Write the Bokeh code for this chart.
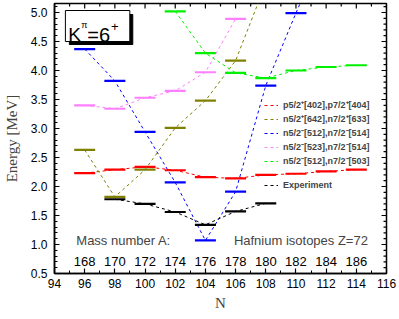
import numpy as np
from bokeh.plotting import figure
from bokeh.models import (Range1d, FixedTicker, Legend, LegendItem,
                          Label, ColumnDataSource)
from bokeh.embed import file_html
from bokeh.resources import INLINE
from bokeh.core.properties import value

nan = float("nan")

# ---------------- data ----------------
N = [96, 98, 100, 102, 104, 106, 108, 110, 112, 114]
mass_numbers = [168, 170, 172, 174, 176, 178, 180, 182, 184, 186]

p_402_404 = [2.23, 2.29, 2.34, 2.28, 2.16, 2.14, 2.20, 2.22, 2.26, 2.29]
n_642_633 = [2.63, 1.82, 2.29, 3.01, 3.48, 4.17, 5.50, nan, nan, nan]
n_512_514 = [4.37, 3.82, 2.94, 2.07, 1.07, 1.91, 3.74, 4.99, 6.20, nan]
n_523_514 = [3.40, 3.34, 3.53, 3.65, 3.97, 4.89, nan, nan, nan, nan]
n_512_503 = [nan, nan, nan, 5.02, 4.30, 3.96, 3.87, 4.00, 4.06, 4.09]
experiment = [nan, 1.78, 1.70, 1.56, 1.34, 1.57, 1.71, nan, nan, nan]

series_labels = ["p5/2\u207a[402],p7/2\u207a[404]",
                 "n5/2\u207a[642],n7/2\u207a[633]",
                 "n5/2\u207b[512],n7/2\u207b[514]",
                 "n5/2\u207b[523],n7/2\u207b[514]",
                 "n5/2\u207b[512],n7/2\u207b[503]"]
exp_label = "Experiment"

x_ticks = list(range(94, 117, 2))
x_minor = list(range(95, 116, 2))
y_ticks = [0.5, 1.0, 1.5, 2.0, 2.5, 3.0, 3.5, 4.0, 4.5, 5.0]
y_minor = [round(0.5 + 0.1 * i, 2) for i in range(0, 47)]

# ---------------- layout helpers ----------------
W, H = 397, 317
X0, X1 = 94, 116
Y0, Y1 = 0.5, 5.155
FL, FR, FT, FB = 51, 386, 3, 273   # frame edges in page pixels
XS = (FR - FL) / (X1 - X0)          # px per x unit
YS = (FB - FT) / (Y1 - Y0)          # px per y unit

def px2x(px):
    return X0 + (px - FL) / XS

def py2y(py):
    return Y1 - (py - FT) / YS

p = figure(width=W, height=H, output_backend="svg", toolbar_location=None,
           x_range=Range1d(X0, X1), y_range=Range1d(Y0, Y1),
           min_border_left=FL, min_border_right=W - FR,
           min_border_top=FT, min_border_bottom=H - FB)
p.xgrid.visible = False
p.ygrid.visible = False
p.outline_line_color = "black"
p.outline_line_width = 1.5
p.background_fill_color = "white"
p.border_fill_color = "white"

xt = FixedTicker(ticks=x_ticks, minor_ticks=x_minor)
yt = FixedTicker(ticks=y_ticks, minor_ticks=y_minor)

def style_axis(ax):
    ax.axis_line_color = "black"
    ax.axis_line_width = 1.5
    ax.major_tick_in = 5
    ax.major_tick_out = 0
    ax.minor_tick_in = 3
    ax.minor_tick_out = 0
    ax.major_tick_line_color = "black"
    ax.minor_tick_line_color = "black"
    ax.major_tick_line_width = 1.2
    ax.major_label_text_font = "Liberation Sans"
    ax.major_label_text_font_size = "12px"
    ax.major_label_text_color = "black"

xa = p.xaxis[0]
xa.ticker = xt
style_axis(xa)
xa.major_label_standoff = 5
xa.axis_label = "N"
xa.axis_label_text_font = "Liberation Serif"
xa.axis_label_text_font_style = "normal"
xa.axis_label_text_font_size = "15px"
xa.axis_label_standoff = 4

ya = p.yaxis[0]
ya.ticker = yt
style_axis(ya)
ya.major_label_standoff = 7
ya.axis_label = "Energy [MeV]"
ya.axis_label_text_font = "Liberation Serif"
ya.axis_label_text_font_style = "normal"
ya.axis_label_text_font_size = "15px"
ya.axis_label_standoff = 8
ya.major_label_overrides = {v: f"{v:.1f}" for v in y_ticks}

# mirror ticks on top and right edges (no labels)
tick_kw = dict(line_color="black", line_width=1.2)
p.segment(x0=x_ticks, y0=[Y1] * len(x_ticks), x1=x_ticks,
          y1=[Y1 - 5 / YS] * len(x_ticks), **tick_kw)
p.segment(x0=x_minor, y0=[Y1] * len(x_minor), x1=x_minor,
          y1=[Y1 - 3 / YS] * len(x_minor), **tick_kw)
p.segment(x0=[X1] * len(y_ticks), y0=y_ticks, x1=[X1 - 5 / XS] * len(y_ticks),
          y1=y_ticks, **tick_kw)
p.segment(x0=[X1] * len(y_minor), y0=y_minor, x1=[X1 - 3 / XS] * len(y_minor),
          y1=y_minor, **tick_kw)

# K^pi = 6^+ box with drop shadow (drawn first, under the data)
p.quad(left=[px2x(66)], right=[px2x(130)], top=[py2y(14)], bottom=[py2y(44)],
       fill_color="black", line_color="black")
p.quad(left=[px2x(62)], right=[px2x(127)], top=[py2y(10)], bottom=[py2y(41)],
       fill_color="white", line_color="black", line_width=1)

# ---------------- series ----------------
colors = ["#FF0000", "#808000", "#0000FF", "#FF80FF", "#00F000"]
all_series = [p_402_404, n_642_633, n_512_514, n_523_514, n_512_503]

items = []
for vals, col, lab in zip(all_series, colors, series_labels):
    src = ColumnDataSource(dict(x=N, y=vals))
    ln = p.line("x", "y", source=src, line_color=col, line_width=1,
                line_dash="3 3")
    p.dash("x", "y", source=src, size=21, line_color=col, line_width=2.2)
    items.append(LegendItem(label=lab, renderers=[ln]))

src_e = ColumnDataSource(dict(x=N, y=experiment))
ln_e = p.line("x", "y", source=src_e, line_color="black", line_width=1,
              line_dash="3 3")
p.dash("x", "y", source=src_e, size=21, line_color="black", line_width=2.2)

def make_legend(its, x, y, spacing):
    lg = Legend(items=its, location=(x, y))
    lg.label_text_font = "Liberation Sans"
    lg.label_text_font_style = "bold"
    lg.label_text_font_size = "9px"
    lg.label_height = 12
    lg.glyph_height = 12
    lg.glyph_width = 14
    lg.label_standoff = 5
    lg.spacing = spacing
    lg.padding = 0
    lg.margin = 0
    lg.border_line_color = None
    lg.background_fill_alpha = 0
    return lg

p.add_layout(make_legend(items, 261 - FL, FB - 167, 1), "center")
p.add_layout(make_legend([LegendItem(label=exp_label, renderers=[ln_e])],
                         261 - FL, FB - 191, 1), "center")

# ---------------- annotations ----------------
p.text(x=N, y=[py2y(261)] * len(N), text=[str(a) for a in mass_numbers],
       text_font=value("Liberation Sans"), text_font_size="13px",
       text_align="center", text_baseline="middle", text_color="black")

p.add_layout(Label(x=px2x(73), y=py2y(240), text="Mass number A:",
                   text_font="Liberation Sans", text_font_size="13px",
                   text_baseline="middle", text_align="left"))
p.add_layout(Label(x=px2x(232), y=py2y(240), text="Hafnium isotopes Z=72",
                   text_font="Liberation Sans", text_font_size="13px",
                   text_baseline="middle", text_align="left"))

for txt, xp, yp, fs in [("K", 65, 34, "19px"), ("\u03c0", 78, 24, "9px"),
                        ("=6", 84, 34, "20px"), ("+", 108, 26, "13px")]:
    p.add_layout(Label(x=px2x(xp), y=py2y(yp), text=txt,
                       text_font="Liberation Sans", text_font_size=fs,
                       text_baseline="alphabetic", text_align="left",
                       text_color="black"))

open("out.html", "w").write(file_html(p, INLINE))
